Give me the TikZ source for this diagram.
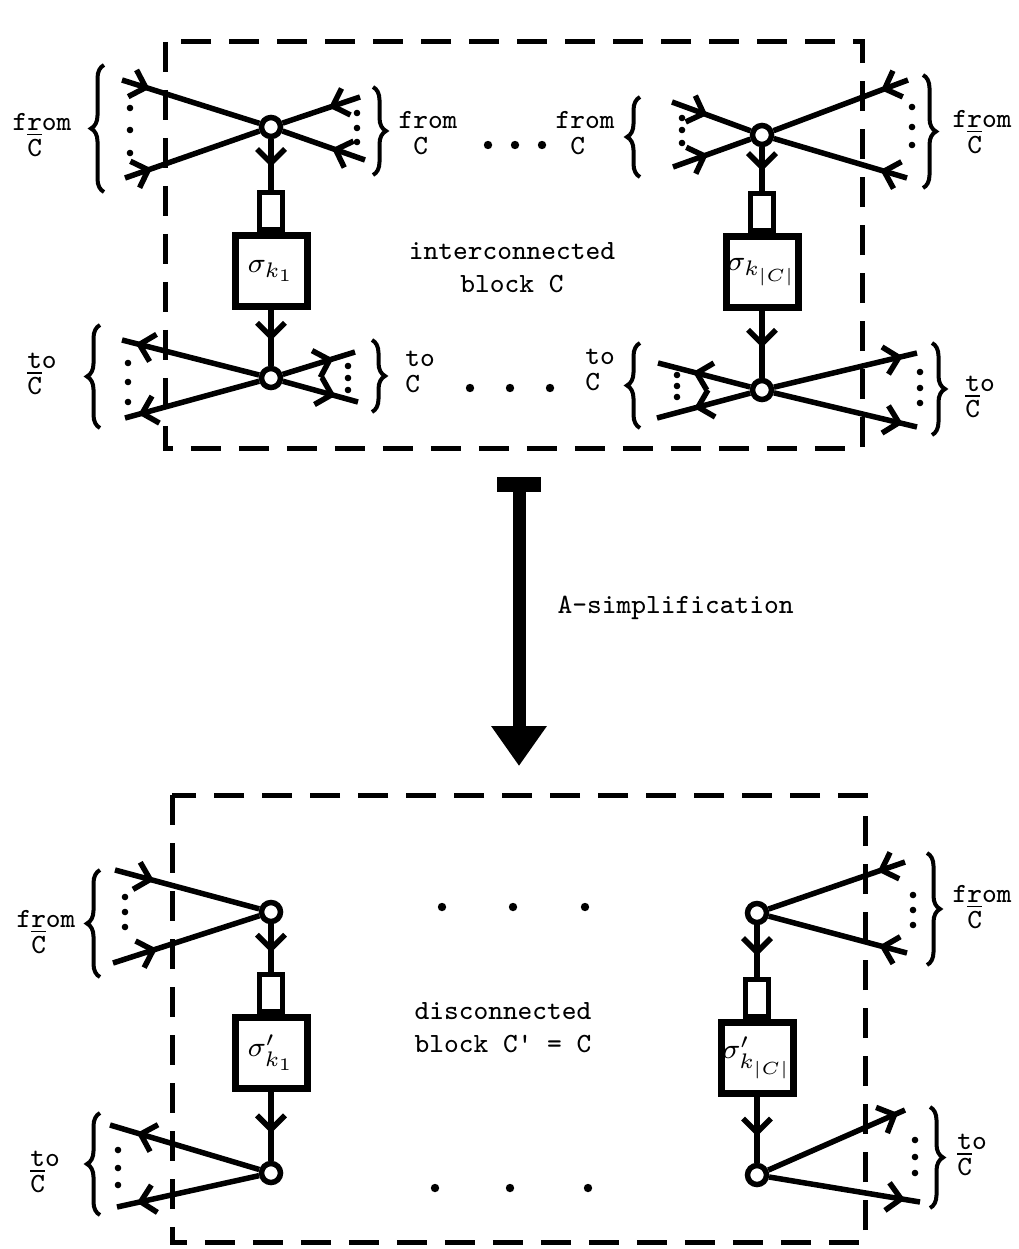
\documentclass[tikz,border=0pt]{standalone}
\usepackage{amsmath}
\usetikzlibrary{positioning, arrows.meta, decorations.pathreplacing, decorations.markings}

\newcommand{\Cbar}{$\overline{\mbox{C}}$}

\begin{document}
\begin{tikzpicture}[
  x=0.1mm, y=-0.1mm,
  wire/.style={line width=0.55mm},
  arr/.style={postaction={decorate},
    decoration={markings, mark=at position #1 with {\arrow{Straight Barb[length=1.4mm,width=2.8mm]}}}},
  jn/.style={circle, draw, line width=0.55mm, fill=white, minimum size=1.9mm, inner sep=0pt},
  sigbox/.style={draw, line width=0.7mm, minimum width=7.2mm, minimum height=7.1mm, inner sep=0pt, font=\fontsize{8.5}{10}\selectfont},
  stub/.style={draw, line width=0.55mm, minimum width=2.3mm, minimum height=3.7mm, inner sep=0pt},
  brc/.style={decorate, decoration={brace, amplitude=1.3mm}, line width=0.4mm},
  fence/.style={line width=0.5mm, dash pattern=on 3mm off 1.8mm},
  lbl/.style={font=\fontsize{7.9}{7.6}\selectfont\ttfamily, align=left, inner sep=0pt},
  txt/.style={font=\fontsize{7.9}{9.4}\selectfont\ttfamily, inner sep=0pt}
]
\useasboundingbox (0,0) rectangle (1019,1249);

% interconnected block
\draw[fence] (165,42) rectangle (862,448);

\node[jn] (tl-in) at (271,127) {};
\node[sigbox] (tl-box) at (271,271) {$\sigma_{k_1}$};
\node[stub, above=0pt of tl-box] (tl-stub) {};
\node[jn] (tl-out) at (271,378) {};
\draw[wire, arr=.55] (tl-in) -- (tl-stub);
\draw[wire, arr=.55] (tl-box) -- (tl-out);

\coordinate (tl-a) at (122,80);  \coordinate (tl-b) at (125,178);
\coordinate (tl-c) at (360,97);  \coordinate (tl-d) at (365,160);
\draw[wire, arr=.2] (tl-a) -- (tl-in);
\draw[wire, arr=.2] (tl-b) -- (tl-in);
\draw[wire, arr=.4] (tl-c) -- (tl-in);
\draw[wire, arr=.4] (tl-d) -- (tl-in);

\coordinate (tl-e) at (122,340); \coordinate (tl-f) at (125,418);
\coordinate (tl-g) at (355,352); \coordinate (tl-h) at (358,402);
\draw[wire, arr=.9] (tl-out) -- (tl-e);
\draw[wire, arr=.9] (tl-out) -- (tl-f);
\draw[wire, arr=.7] (tl-out) -- (tl-g);
\draw[wire, arr=.7] (tl-out) -- (tl-h);

\node[jn] (tr-in) at (762,135) {};
\node[sigbox] (tr-box) at (762,272) {$\sigma_{k_{|C|}}$};
\node[stub, above=0pt of tr-box] (tr-stub) {};
\node[jn] (tr-out) at (762,390) {};
\draw[wire, arr=.55] (tr-in) -- (tr-stub);
\draw[wire, arr=.55] (tr-box) -- (tr-out);

\coordinate (tr-a) at (672,102); \coordinate (tr-b) at (673,167);
\coordinate (tr-c) at (908,80);  \coordinate (tr-d) at (907,178);
\draw[wire, arr=.45] (tr-a) -- (tr-in);
\draw[wire, arr=.45] (tr-b) -- (tr-in);
\draw[wire, arr=.2] (tr-c) -- (tr-in);
\draw[wire, arr=.2] (tr-d) -- (tr-in);

\coordinate (tr-e) at (658,363); \coordinate (tr-f) at (657,418);
\coordinate (tr-g) at (917,353); \coordinate (tr-h) at (917,427);
\draw[wire, arr=.62] (tr-out) -- (tr-e);
\draw[wire, arr=.6] (tr-out) -- (tr-f);
\draw[wire, arr=.9] (tr-out) -- (tr-g);
\draw[wire, arr=.9] (tr-out) -- (tr-h);

% braces and dots
\draw[brc] (104,192) -- (104,65);
\draw[brc] (373,87) -- (373,175);
\draw[brc] (100,428) -- (100,325);
\draw[brc] (372,340) -- (372,412);
\draw[brc] (640,177) -- (640,97);
\draw[brc] (923,75) -- (923,188);
\draw[brc] (640,428) -- (640,343);
\draw[brc] (932,343) -- (932,435);

\foreach \x/\y in {130/108,130/130,130/153, 357/113,357/128,357/142,
                   128/363,128/382,128/402, 348/366,348/378,348/390,
                   682/118,682/130,682/143, 912/107,912/127,912/145,
                   677/375,677/386,677/397, 920/372,920/388,920/403}
  \fill (\x,\y) circle[radius=0.33mm];
\foreach \x/\y in {488/145,515/145,542/145, 470/388,510/388,550/388}
  \fill (\x,\y) circle[radius=0.42mm];

\node[lbl] (l1) at (42,135) {from\\\phantom{f}\Cbar};
\node[lbl] (l2) at (428,133) {from\\\phantom{f}C};
\node[lbl] (l3) at (585,133) {from\\\phantom{f}C};
\node[lbl] (l4) at (982,132) {from\\\phantom{f}\Cbar};
\node[lbl] (l5) at (42,374) {to\\\Cbar};
\node[lbl] (l6) at (420,372) {to\\C};
\node[lbl] (l7) at (600,370) {to\\C};
\node[lbl] (l8) at (980,397) {to\\\Cbar};

\node[txt, align=center] (inter) at (512,268) {interconnected\\block C};

% A-simplification
\coordinate (simtop) at (519,484);
\coordinate (simbot) at (519,766);
\draw[line width=1.5mm] ([xshift=-2.2mm]simtop) -- ([xshift=2.2mm]simtop);
\draw[line width=1.3mm, -{Triangle[length=4mm,width=5.3mm]}] (simtop) -- (simbot);
\node[txt, anchor=west] (simp) at (557,608) {A-simplification};

% disconnected block
\draw[fence] (172,795) rectangle (865,1242);

\node[jn] (bl-in) at (271,912) {};
\node[sigbox] (bl-box) at (271,1053) {$\sigma'_{k_1}$};
\node[stub, above=0pt of bl-box] (bl-stub) {};
\node[jn] (bl-out) at (271,1173) {};
\draw[wire, arr=.6] (bl-in) -- (bl-stub);
\draw[wire, arr=.6] (bl-box) -- (bl-out);

\coordinate (bl-a) at (115,870);  \coordinate (bl-b) at (113,963);
\coordinate (bl-e) at (110,1125); \coordinate (bl-f) at (117,1207);
\draw[wire, arr=.27] (bl-a) -- (bl-in);
\draw[wire, arr=.3] (bl-b) -- (bl-in);
\draw[wire, arr=.82] (bl-out) -- (bl-e);
\draw[wire, arr=.86] (bl-out) -- (bl-f);

\node[jn] (br-in) at (757,913) {};
\node[sigbox] (br-box) at (757,1058) {$\sigma'_{k_{|C|}}$};
\node[stub, above=0pt of br-box] (br-stub) {};
\node[jn] (br-out) at (757,1175) {};
\draw[wire, arr=.6] (br-in) -- (br-stub);
\draw[wire, arr=.6] (br-box) -- (br-out);

\coordinate (br-c) at (905,862);  \coordinate (br-d) at (907,953);
\coordinate (br-g) at (905,1110); \coordinate (br-h) at (920,1202);
\draw[wire, arr=.2] (br-c) -- (br-in);
\draw[wire, arr=.2] (br-d) -- (br-in);
\draw[wire, arr=.95] (br-out) -- (br-g);
\draw[wire, arr=.9] (br-out) -- (br-h);

\draw[brc] (100,977) -- (100,870);
\draw[brc] (100,1215) -- (100,1113);
\draw[brc] (927,853) -- (927,965);
\draw[brc] (930,1107) -- (930,1208);

\foreach \x/\y in {125/897,125/912,125/927, 118/1150,118/1168,118/1185,
                   913/895,913/910,913/925, 915/1140,915/1157,915/1173}
  \fill (\x,\y) circle[radius=0.33mm];
\foreach \x/\y in {442/907,513/907,585/907, 435/1188,510/1188,588/1188}
  \fill (\x,\y) circle[radius=0.42mm];

\node[lbl] (l9) at (46,932) {from\\\phantom{f}\Cbar};
\node[lbl] (l10) at (982,907) {from\\\phantom{f}\Cbar};
\node[lbl] (l11) at (45,1172) {to\\\Cbar};
\node[lbl] (l12) at (972,1155) {to\\\Cbar};

\node[txt, align=left] (disc) at (503,1028) {disconnected\\block C' = C};
\end{tikzpicture}
\end{document}
